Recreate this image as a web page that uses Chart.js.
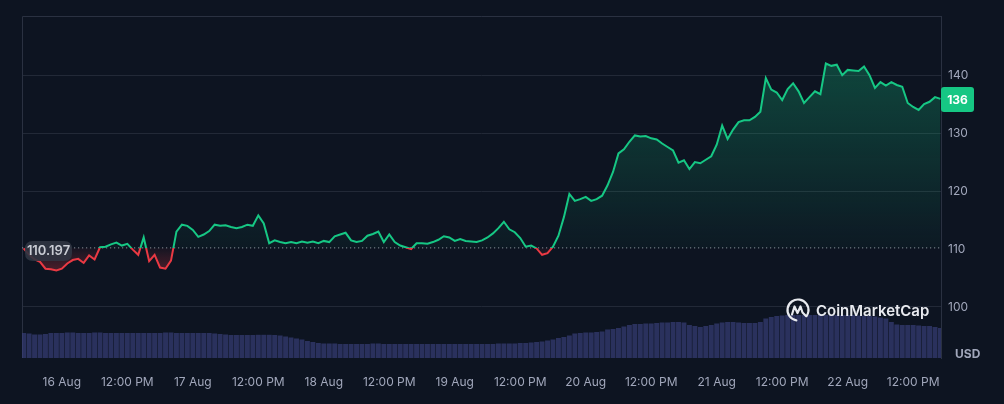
<!DOCTYPE html>
<html>
<head>
<meta charset="utf-8">
<title>Price chart (7D)</title>
<script src="https://cdn.jsdelivr.net/npm/chart.js@4.4.1/dist/chart.umd.min.js"></script>
<style>
	html, body { margin:0; padding:0; background:#0d1421; }
	#wrap { position:relative; width:1004px; height:404px; }
</style>
</head>
<body>
<div id="wrap"><canvas id="price_chart" width="1004" height="404"></canvas></div>
<script>
/* =========== Data (hourly, hour 0 = 16 Aug 00:00) ================= */
const startHour = -7;
const baseline = 110.197;

const priceValues = [
	110.1, 109.0, 108.2, 107.8, 106.6, 106.5, 106.3,
	106.6, 107.5, 108.1, 108.3, 107.6, 108.9, 108.2, 110.3, 110.4, 110.8,
	111.1, 110.6, 110.9, 109.9, 109.0, 112.0, 107.9, 109.0, 106.8, 106.6,
	108.0, 113.0, 114.2, 114.0, 113.3, 112.1, 112.5, 113.1, 114.2, 114.0,
	114.1, 113.8, 113.6, 113.8, 114.2, 114.0, 115.8, 114.4, 111.0, 111.5,
	111.2, 111.0, 111.2, 111.0, 111.3, 111.1, 111.3, 111.0, 111.4, 111.2,
	112.2, 112.5, 112.8, 111.5, 111.2, 111.4, 112.3, 112.6, 113.0, 111.2,
	112.5, 111.2, 110.6, 110.3, 110.0, 111.0, 111.0, 110.9, 111.2, 111.6,
	112.2, 112.0, 111.4, 111.7, 111.4, 111.3, 111.2, 111.5, 112.0, 112.7,
	113.6, 114.7, 113.4, 112.9, 111.9, 110.4, 110.6, 110.1, 109.0, 109.3,
	110.4, 112.3, 115.5, 119.5, 118.3, 118.6, 119.0, 118.3, 118.6, 119.2,
	121.0, 123.3, 126.5, 127.2, 128.5, 129.6, 129.4, 129.5, 129.1, 128.9,
	128.2, 127.6, 127.0, 124.9, 125.3, 123.8, 125.0, 124.8, 125.4, 126.0,
	128.0, 131.3, 129.0, 130.6, 131.9, 132.2, 132.2, 132.8, 133.7, 139.5,
	137.5, 137.0, 135.7, 137.6, 138.6, 137.2, 135.2, 136.2, 137.2, 136.7,
	142.0, 141.6, 141.8, 140.0, 140.9, 140.8, 140.7, 141.5, 140.0, 137.8,
	138.8, 138.2, 138.8, 138.3, 138.0, 135.2, 134.5, 134.0, 135.0, 135.4,
	136.2, 135.9
];

// volume, same hours (no axis shown, relative units)
const volumeValues = [
	250, 245, 235, 235, 240, 250, 250,
	250, 255, 255, 250, 250, 250, 255, 255, 250, 250,
	250, 250, 250, 250, 250, 250, 250, 250, 250, 255,
	255, 250, 250, 250, 250, 250, 250, 250, 245, 240,
	235, 230, 230, 230, 230, 230, 232, 232, 232, 230,
	225, 215, 205, 195, 185, 170, 160, 150, 145, 145,
	145, 140, 140, 140, 140, 140, 140, 145, 145, 140,
	140, 140, 140, 140, 140, 140, 140, 140, 140, 140,
	140, 140, 140, 140, 140, 140, 140, 140, 140, 140,
	145, 145, 145, 145, 150, 150, 155, 160, 165, 175,
	185, 200, 210, 225, 245, 250, 255, 255, 260, 265,
	285, 290, 300, 315, 330, 340, 340, 345, 345, 350,
	355, 355, 360, 360, 355, 330, 320, 310, 320, 330,
	345, 355, 360, 360, 355, 350, 350, 350, 360, 395,
	410, 420, 425, 430, 430, 430, 430, 430, 430, 430,
	430, 430, 430, 430, 430, 430, 425, 425, 420, 415,
	405, 395, 360, 335, 330, 330, 330, 325, 320, 320,
	310, 300
];

const tickHours = [0, 12, 24, 36, 48, 60, 72, 84, 96, 108, 120, 132, 144, 156];
const tickLabels = ['16 Aug', '12:00 PM', '17 Aug', '12:00 PM', '18 Aug', '12:00 PM', '19 Aug',
	'12:00 PM', '20 Aug', '12:00 PM', '21 Aug', '12:00 PM', '22 Aug', '12:00 PM'];
const priceTicks = [100, 110, 120, 130, 140];
/* ------------------------------------------------ */

const green = '#16c784';
const red = '#ea3943';
const gridColor = '#222937';
const borderColor = '#2a3141';
const labelColor = '#a1a7bb';

Chart.defaults.font.family = 'Inter, "Noto Sans", sans-serif';
Chart.defaults.font.size = 12;

const pricePoints = priceValues.map((v, i) => ({ x: startHour + i, y: v }));
const volumePoints = volumeValues.map((v, i) => ({ x: startHour + i, y: v }));
const basePoints = [startHour - 1, startHour + priceValues.length].map(h => ({ x: h, y: baseline }));

function roundRect(ctx, x, y, w, h, r) {
	ctx.beginPath();
	ctx.moveTo(x + r, y);
	ctx.lineTo(x + w - r, y);
	ctx.quadraticCurveTo(x + w, y, x + w, y + r);
	ctx.lineTo(x + w, y + h - r);
	ctx.quadraticCurveTo(x + w, y + h, x + w - r, y + h);
	ctx.lineTo(x + r, y + h);
	ctx.quadraticCurveTo(x, y + h, x, y + h - r);
	ctx.lineTo(x, y + r);
	ctx.quadraticCurveTo(x, y, x + r, y);
	ctx.closePath();
}

/* =========== Decorations (gradients, frame, tags, logo) ================= */
const decor = {
	id: 'decor',
	afterLayout: function(chart) {
		const ctx = chart.ctx, area = chart.chartArea;
		const baseY = chart.scales.y.getPixelForValue(baseline);
		const f = (baseY - area.top) / (area.bottom - area.top);
		const f2 = Math.min(1, (baseY + 28 - area.top) / (area.bottom - area.top));

		const lineGrad = ctx.createLinearGradient(0, area.top, 0, area.bottom);
		lineGrad.addColorStop(0, green);
		lineGrad.addColorStop(f, green);
		lineGrad.addColorStop(f, red);
		lineGrad.addColorStop(1, red);

		const fillGrad = ctx.createLinearGradient(0, area.top, 0, area.bottom);
		fillGrad.addColorStop(0, 'rgba(22,199,132,0.34)');
		fillGrad.addColorStop(f, 'rgba(22,199,132,0.03)');
		fillGrad.addColorStop(f, 'rgba(234,57,67,0.04)');
		fillGrad.addColorStop(f2, 'rgba(234,57,67,0.34)');
		fillGrad.addColorStop(1, 'rgba(234,57,67,0.34)');

		chart.data.datasets[0].borderColor = lineGrad;
		chart.data.datasets[0].backgroundColor = fillGrad;
	},
	beforeDatasetsDraw: function(chart) {
		const ctx = chart.ctx, area = chart.chartArea;
		ctx.save();
		ctx.strokeStyle = borderColor;
		ctx.lineWidth = 1;
		ctx.beginPath();
		ctx.moveTo(area.left + 0.5, area.bottom);
		ctx.lineTo(area.left + 0.5, area.top + 0.5);
		ctx.lineTo(area.right, area.top + 0.5);
		ctx.stroke();
		ctx.restore();
	},
	afterDraw: function(chart) {
		const ctx = chart.ctx, area = chart.chartArea;
		const y = chart.scales.y;
		ctx.save();

		// logo
		const cx = area.right - 143, cy = area.bottom - 48;
		ctx.strokeStyle = '#e8eaef';
		ctx.lineWidth = 2.2;
		ctx.lineCap = 'round';
		ctx.lineJoin = 'round';
		ctx.beginPath();
		ctx.arc(cx, cy, 10.5, 0.55 * Math.PI, 2.2 * Math.PI);
		ctx.stroke();
		ctx.beginPath();
		ctx.moveTo(cx - 6, cy + 4.5);
		ctx.lineTo(cx - 3.5, cy - 3.5);
		ctx.lineTo(cx - 0.5, cy + 3);
		ctx.lineTo(cx + 2.5, cy - 3.5);
		ctx.lineTo(cx + 4.5, cy + 2.5);
		ctx.lineTo(cx + 8, cy + 6);
		ctx.stroke();
		ctx.fillStyle = '#e8eaef';
		ctx.font = '600 15px Inter, "Noto Sans", sans-serif';
		ctx.textAlign = 'left';
		ctx.textBaseline = 'middle';
		ctx.fillText('CoinMarketCap', cx + 18, cy + 1);

		// baseline tag
		const baseY = y.getPixelForValue(baseline);
		ctx.fillStyle = 'rgba(48,53,66,0.9)';
		roundRect(ctx, area.left + 3, baseY - 7, 47, 20, 8);
		ctx.fill();
		ctx.fillStyle = '#c9ccd4';
		ctx.font = '600 13px Inter, "Noto Sans", sans-serif';
		ctx.textAlign = 'center';
		ctx.fillText(baseline.toFixed(3), area.left + 26.5, baseY + 3.5);

		// last price tag
		const last = priceValues[priceValues.length - 1];
		const ly = y.getPixelForValue(last);
		ctx.fillStyle = green;
		roundRect(ctx, area.right, ly - 12, 33, 25, 3);
		ctx.fill();
		ctx.fillStyle = '#ffffff';
		ctx.font = '700 12px Inter, "Noto Sans", sans-serif';
		ctx.fillText(String(Math.round(last)), area.right + 16.5, ly + 1);

		// currency
		ctx.fillStyle = labelColor;
		ctx.textAlign = 'left';
		ctx.fillText('USD', area.right + 14, area.bottom - 4);
		ctx.restore();
	}
};
/* ------------------------------------------------ */

/* =========== Price chart ================= */
const chart = new Chart(document.getElementById('price_chart'), {
	data: {
		datasets: [{
			type: 'line',
			label: 'Price',
			data: pricePoints,
			yAxisID: 'y',
			borderColor: green,
			borderWidth: 2,
			backgroundColor: 'rgba(22,199,132,0.15)',
			fill: { value: baseline },
			pointRadius: 0,
			tension: 0,
			order: 0
		}, {
			type: 'line',
			label: 'Baseline',
			data: basePoints,
			yAxisID: 'y',
			borderColor: 'rgba(215,220,230,0.75)',
			borderWidth: 1,
			borderDash: [1, 3],
			pointRadius: 0,
			fill: false,
			order: 1
		}, {
			type: 'bar',
			label: 'Volume',
			data: volumePoints,
			yAxisID: 'yv',
			backgroundColor: 'rgba(60,66,128,0.64)',
			borderWidth: 0,
			barPercentage: 0.9,
			categoryPercentage: 1,
			order: 2
		}]
	},
	options: {
		responsive: false,
		animation: false,
		events: [],
		layout: { padding: { left: 22, top: 16, right: 0, bottom: 0 } },
		plugins: {
			legend: { display: false },
			tooltip: { enabled: false }
		},
		scales: {
			x: {
				type: 'linear',
				min: -7.3,
				max: 161.1,
				offset: false,
				afterBuildTicks: function(s) { s.ticks = tickHours.map(v => ({ value: v })); },
				afterFit: function(s) { s.height = 46; },
				grid: { display: false, offset: false },
				border: { display: false },
				ticks: {
					color: labelColor,
					padding: 9,
					maxRotation: 0,
					autoSkip: false,
					callback: function(v, i) { return tickLabels[i]; }
				}
			},
			y: {
				position: 'right',
				min: 91.2,
				max: 150.2,
				afterBuildTicks: function(s) { s.ticks = priceTicks.map(v => ({ value: v })); },
				afterFit: function(s) { s.width = 63; },
				grid: {
					color: function(c) { return c.tick && c.tick.value === 110 ? 'rgba(0,0,0,0)' : gridColor; },
					drawTicks: false
				},
				border: { display: true, color: borderColor },
				ticks: { color: labelColor, padding: 7 }
			},
			yv: {
				display: false,
				min: 0,
				max: 3420
			}
		}
	},
	plugins: [decor]
});
/* ------------------------------------------------ */
</script>
</body>
</html>
